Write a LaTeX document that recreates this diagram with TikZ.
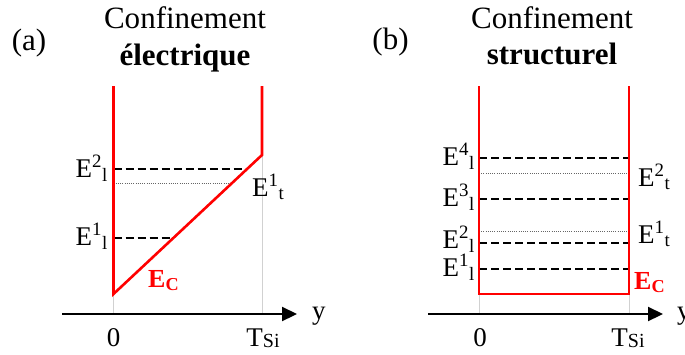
\documentclass[tikz,border=0pt]{standalone}
\usepackage{fontspec}
\setmainfont{Liberation Serif}
\usetikzlibrary{arrows.meta,calc,positioning}

\newcommand{\tsi}{T\raisebox{-1.5pt}{\fontsize{20}{24}\selectfont Si}}

\begin{document}
\begin{tikzpicture}[x=1pt, y=-1pt,
  every node/.style={inner sep=0pt, font=\fontsize{27}{31}\selectfont},
  wall/.style={draw=red, line width=2.6pt},
  llev/.style={draw=black, line width=1.1pt, dash pattern=on 8pt off 4pt},
  tlev/.style={draw=black!60, line width=0.8pt, dash pattern=on 1pt off 1.2pt},
  guide/.style={draw=black!18, line width=0.7pt},
  yaxis/.style={draw, line width=2.2pt, -{Triangle[length=15pt,width=14pt]}},
  title/.style={anchor=base, font=\fontsize{31}{35}\selectfont},
  btitle/.style={anchor=base, font=\fontsize{31}{35}\selectfont\bfseries},
  llab/.style={anchor=base east},
  rlab/.style={anchor=base west},
  ec/.style={anchor=base west, text=red, font=\fontsize{26}{30}\selectfont\bfseries}
]
\useasboundingbox (0,0) rectangle (685,354);
\clip (0,0) rectangle (685,354);

% (a) electrical confinement
\node[title] (a-tag) at (29,50) {(a)};
\node[title] (a-t1) at (185,28) {Confinement};
\node[btitle] (a-t2) at (185,65) {électrique};

\coordinate (a-lt) at (113.5,86);
\coordinate (a-lb) at (113.5,294);
\coordinate (a-rb) at (262,155);
\coordinate (a-rt) at (262,86);
\coordinate (a-x0) at (62,314);
\coordinate (a-x1) at (297,314);
\coordinate (a-s1) at ($(a-lb)!0.4029!(a-rb)$);
\coordinate (a-st) at ($(a-lb)!0.7986!(a-rb)$);
\coordinate (a-s2) at ($(a-lb)!0.8993!(a-rb)$);

\draw[guide] (a-lb) -- (a-lb |- a-x0);
\draw[guide] (a-rb) -- (a-rb |- a-x0);
\draw[llev] (a-s2 -| a-lb) -- (a-s2);
\draw[tlev] (a-st -| a-lb) -- (a-st);
\draw[llev] (a-s1 -| a-lb) -- (a-s1);
\draw[wall] (a-lt) -- (a-lb) -- (a-rb) -- (a-rt);
\draw[yaxis] (a-x0) -- (a-x1);

\node[llab] (a-e2) at (108,177) {E\textsuperscript{2}\textsubscript{l}};
\node[llab] (a-e1) at (108,245) {E\textsuperscript{1}\textsubscript{l}};
\node[rlab] (a-f1) at (252,196) {E\textsuperscript{1}\textsubscript{t}};
\node[ec] (a-ec) at (148,287) {E\textsubscript{C}};
\node[anchor=base] (a-0) at (113.5,346) {0};
\node[anchor=base] (a-ts) at (263,346) {\tsi};
\node[rlab] (a-y) at (312,319) {y};

% (b) structural confinement
\node[title] (b-tag) at (390.5,49) {(b)};
\node[title] (b-t1) at (552,28) {Confinement};
\node[btitle] (b-t2) at (552,64) {structurel};

\coordinate (b-lt) at (479,86);
\coordinate (b-lb) at (479,294);
\coordinate (b-rb) at (629,294);
\coordinate (b-rt) at (629,86);
\coordinate (b-x0) at (428,314);
\coordinate (b-x1) at (663,314);
\coordinate (b-l4) at (629,158);
\coordinate (b-t2l) at (629,173);
\coordinate (b-l3) at (629,199);
\coordinate (b-t1l) at (629,231);
\coordinate (b-l2) at (629,243);
\coordinate (b-l1) at (629,269);

\draw[guide] (b-lb) -- (b-lb |- b-x0);
\draw[guide] (b-rb) -- (b-rb |- b-x0);
\draw[llev] (b-l4 -| b-lb) -- (b-l4);
\draw[tlev] (b-t2l -| b-lb) -- (b-t2l);
\draw[llev] (b-l3 -| b-lb) -- (b-l3);
\draw[tlev] (b-t1l -| b-lb) -- (b-t1l);
\draw[llev] (b-l2 -| b-lb) -- (b-l2);
\draw[llev] (b-l1 -| b-lb) -- (b-l1);
\draw[wall] (b-lt) -- (b-lb) -- (b-rb) -- (b-rt);
\draw[yaxis] (b-x0) -- (b-x1);

\node[llab] (b-e4) at (475,165) {E\textsuperscript{4}\textsubscript{l}};
\node[llab] (b-e3) at (475,206) {E\textsuperscript{3}\textsubscript{l}};
\node[llab] (b-e2) at (475,248) {E\textsuperscript{2}\textsubscript{l}};
\node[llab] (b-e1) at (475,276) {E\textsuperscript{1}\textsubscript{l}};
\node[rlab] (b-f2) at (638,186) {E\textsuperscript{2}\textsubscript{t}};
\node[rlab] (b-f1) at (638,243) {E\textsuperscript{1}\textsubscript{t}};
\node[ec] (b-ec) at (634,289) {E\textsubscript{C}};
\node[anchor=base] (b-0) at (480,346) {0};
\node[anchor=base] (b-ts) at (628,346) {\tsi};
\node[rlab] (b-y) at (677,319) {y};

\end{tikzpicture}
\end{document}
